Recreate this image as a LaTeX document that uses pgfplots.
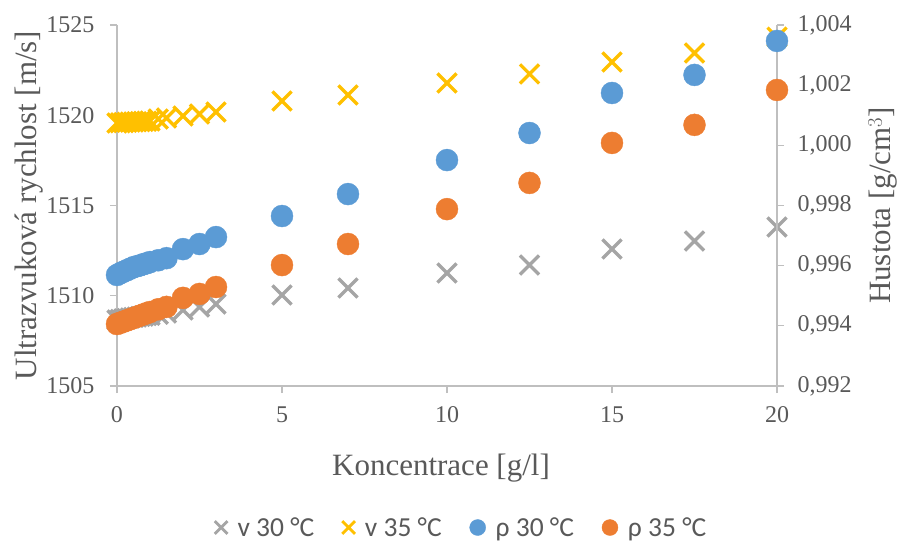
\documentclass[border=0pt]{standalone}
\usepackage{pgfplots}
\usepackage{pgfplotstable}
\pgfplotsset{compat=1.18}
\usepackage{fontspec}
\setmainfont{Liberation Serif}
\newfontfamily\legfont{Carlito}

\definecolor{cGray}{HTML}{A5A5A5}
\definecolor{cYellow}{HTML}{FFC000}
\definecolor{cBlue}{HTML}{5B9BD5}
\definecolor{cOrange}{HTML}{ED7D31}
\definecolor{cAxis}{HTML}{BFBFBF}
\definecolor{cText}{HTML}{595959}

% concentration [g/l], sound velocity [m/s], density [g/cm^3]
\pgfplotstableread{
c     v30      v35      r30      r35
0     1508.66  1519.57  0.99569  0.99406
0.1   1508.69  1519.58  0.99575  0.99410
0.2   1508.72  1519.59  0.99580  0.99414
0.3   1508.74  1519.61  0.99585  0.99418
0.4   1508.77  1519.62  0.99590  0.99422
0.5   1508.80  1519.63  0.99595  0.99426
0.6   1508.82  1519.64  0.99598  0.99430
0.7   1508.85  1519.65  0.99601  0.99434
0.8   1508.87  1519.66  0.99605  0.99438
0.9   1508.90  1519.67  0.99608  0.99442
1.0   1508.92  1519.68  0.99612  0.99446
1.25  1508.98  1519.79  0.99618  0.99455
1.5   1509.04  1519.85  0.99625  0.99463
2     1509.21  1519.96  0.99655  0.99493
2.5   1509.38  1520.07  0.99672  0.99506
3     1509.54  1520.18  0.99695  0.99529
5     1510.04  1520.79  0.99765  0.99602
7     1510.43  1521.12  0.99838  0.99672
10    1511.26  1521.79  0.99951  0.99788
12.5  1511.70  1522.29  1.00041  0.99875
15    1512.59  1522.95  1.00174  1.00008
17.5  1513.03  1523.45  1.00234  1.00068
20    1513.81  1524.33  1.00347  1.00184
}\datatable

\pgfplotsset{
  base/.style={
    scale only axis,
    width=660pt, height=361pt,
    at={(0,0)}, anchor=south west,
    xmin=0, xmax=20,
    axis line style={cAxis, line width=1.3pt},
    tick style={cAxis, line width=1.3pt},
    major tick length=7pt,
    tick align=outside,
    ticklabel style={font=\fontsize{24}{24}\selectfont, text=cText},
    label style={font=\fontsize{31}{31}\selectfont, text=cText},
    /pgf/number format/assume math mode=true,
  },
  vcross/.style={only marks, mark=x, mark size=13.5pt, line width=3.3pt, color=#1},
  rdot/.style={only marks, mark=*, mark size=11pt, color=#1, mark options={draw=none, fill=#1}},
}

\begin{document}
\begin{tikzpicture}
\useasboundingbox (-117pt,-156pt) rectangle (782pt,386pt);

% sound velocity, left axis
\begin{axis}[base,
  axis x line*=bottom, axis y line*=left,
  ymin=1505, ymax=1525, ytick={1505,1510,...,1525},
  xtick={0,5,...,20},
  yticklabel style={xshift=-12pt, /pgf/number format/.cd, 1000 sep={}},
  xticklabel style={yshift=-10pt},
  xlabel={Koncentrace [g/l]},
  ylabel={Ultrazvuková rychlost [m/s]},
  xlabel style={yshift=-24pt, xshift=-6pt},
  ylabel style={yshift=-4pt},
  clip=false,
]
\addplot[vcross=cGray] table[x=c, y=v30] {\datatable};
\addplot[vcross=cYellow] table[x=c, y=v35] {\datatable};
\end{axis}

% density, right axis
\begin{axis}[base,
  axis x line=none, axis y line*=right,
  ymin=0.992, ymax=1.004, ytick={0.992,0.994,...,1.0045},
  yticklabel style={xshift=10pt, /pgf/number format/.cd, fixed, fixed zerofill, precision=3, use comma},
  ylabel={Hustota [g/cm$^3$]},
  ylabel style={yshift=-10pt},
  clip=false,
  legend columns=4,
  legend style={at={(0.522,-0.392)}, anchor=center, draw=none, fill=none,
    font=\legfont\fontsize{27.5}{27.5}\selectfont, text=cText,
    /tikz/every odd column/.append style={column sep=8pt},
    /tikz/every even column/.append style={column sep=26pt}},
  legend cell align=left,
]
\addlegendimage{vcross=cGray, mark size=9pt, line width=2.8pt}
\addlegendimage{vcross=cYellow, mark size=9pt, line width=2.8pt}
\addplot[rdot=cBlue, forget plot] table[x=c, y=r30] {\datatable};
\addplot[rdot=cOrange, forget plot] table[x=c, y=r35] {\datatable};
\addlegendimage{rdot=cBlue, mark size=8pt}
\addlegendimage{rdot=cOrange, mark size=8pt}
\legend{v 30 °C, v 35 °C, ρ 30 °C, ρ 35 °C}
\end{axis}
\end{tikzpicture}
\end{document}
